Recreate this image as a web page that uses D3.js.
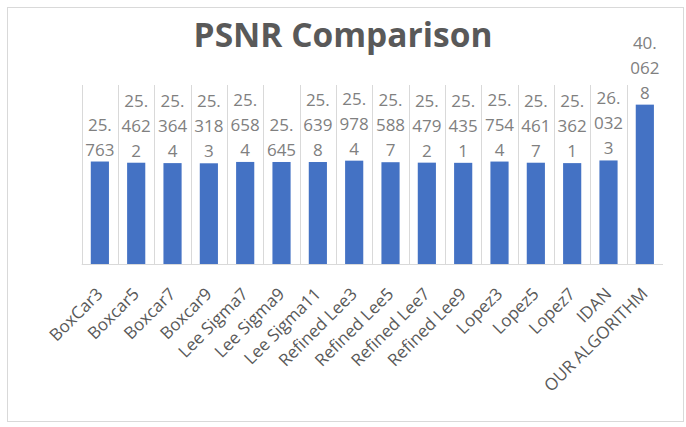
<!DOCTYPE html>
<html>
<head>
<meta charset="utf-8">
<script src="https://cdn.jsdelivr.net/npm/d3@7"></script>
<style>
html,body{margin:0;padding:0;background:#fff;}
svg{display:block;}
</style>
</head>
<body>
<script>
const categories = ["BoxCar3","Boxcar5","Boxcar7","Boxcar9","Lee Sigma7","Lee Sigma9","Lee Sigma11","Refined Lee3","Refined Lee5","Refined Lee7","Refined Lee9","Lopez3","Lopez5","Lopez7","IDAN","OUR ALGORITHM"];
const psnrValues = [25.763,25.4622,25.3644,25.3183,25.6584,25.645,25.6398,25.9784,25.5887,25.4792,25.4351,25.7544,25.4617,25.3621,26.0323,40.0628];
const title = "PSNR Comparison";

const W = 686, H = 427;
const svg = d3.select("body").append("svg").attr("width", W).attr("height", H);

// chart border
svg.append("rect").attr("x", 7.5).attr("y", 7.5).attr("width", 676).attr("height", 414)
  .attr("fill", "#fff").attr("stroke", "#d9d9d9").attr("stroke-width", 1);

const x = d3.scaleBand().domain(categories).range([81.7, 663]).paddingInner(0.5).paddingOuter(0.25);
const y = d3.scaleLinear().domain([0, 45]).range([264, 85]);

const step = x.step();
const off = (step - x.bandwidth()) / 2;

// vertical gridlines between categories
svg.append("g").selectAll("line").data(categories).join("line")
  .attr("x1", d => Math.round(x(d) - off) + 0.5)
  .attr("x2", d => Math.round(x(d) - off) + 0.5)
  .attr("y1", y(45)).attr("y2", y(0))
  .attr("stroke", "#d9d9d9").attr("stroke-width", 1);

// baseline
svg.append("line").attr("x1", 81.7).attr("x2", 663).attr("y1", y(0) + 0.5).attr("y2", y(0) + 0.5)
  .attr("stroke", "#d9d9d9").attr("stroke-width", 1);

// bars
svg.append("g").selectAll("rect").data(psnrValues).join("rect")
  .attr("x", (d, i) => x(categories[i]))
  .attr("width", x.bandwidth())
  .attr("y", d => y(d))
  .attr("height", d => y(0) - y(d))
  .attr("fill", "#4472C4");

// value labels, wrapped like the original
function splitLabel(v) {
  const s = String(v);
  const [ip, dp] = s.split(".");
  const lines = [ip + "."];
  for (let k = 0; k < dp.length; k += 3) lines.push(dp.slice(k, k + 3));
  return lines;
}
const lineH = 25;
const lbl = svg.append("g").attr("font-family", "'Open Sans', sans-serif").attr("font-size", 17)
  .attr("fill", "#808080").attr("text-anchor", "middle");
psnrValues.forEach((v, i) => {
  const lines = splitLabel(v);
  const cx = x(categories[i]) + x.bandwidth() / 2;
  const bottom = y(v) - 6;
  const t = lbl.append("text");
  lines.forEach((ln, j) => {
    t.append("tspan").attr("x", cx).attr("y", bottom - (lines.length - 1 - j) * lineH).text(ln);
  });
});

// category labels
const xl = svg.append("g").attr("font-family", "'Open Sans', sans-serif").attr("font-size", 17)
  .attr("fill", "#595959").attr("text-anchor", "end");
categories.forEach(c => {
  const cx = x(c) + x.bandwidth() / 2;
  xl.append("text")
    .attr("transform", `translate(${cx + 4},${y(0) + 31}) rotate(-45)`)
    .text(c);
});

// title
svg.append("text").attr("x", 343).attr("y", 47).attr("text-anchor", "middle")
  .attr("font-family", "'Open Sans', sans-serif").attr("font-weight", "bold")
  .attr("font-size", 33.5).attr("fill", "#595959").text(title);
</script>
</body>
</html>
